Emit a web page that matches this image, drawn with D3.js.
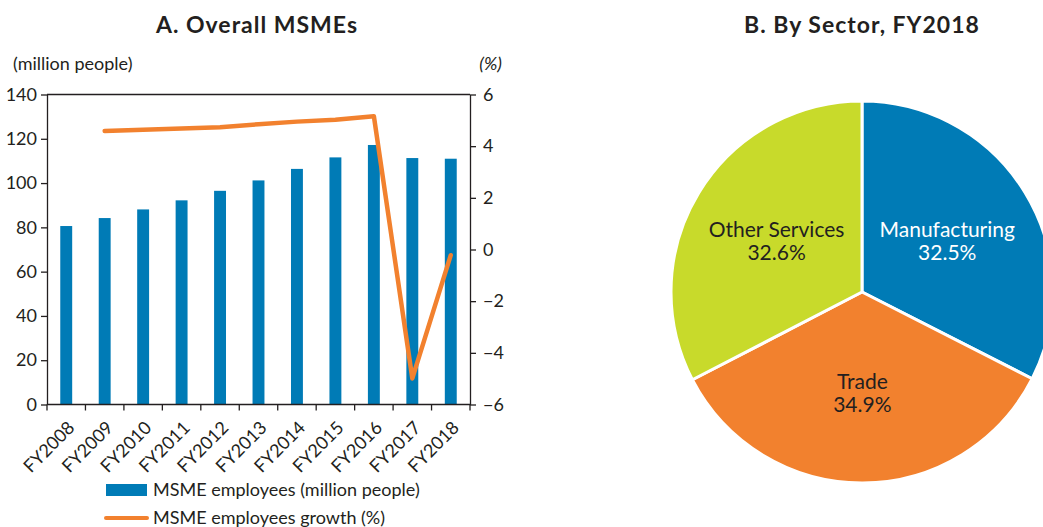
<!DOCTYPE html>
<html>
<head>
<meta charset="utf-8">
<script src="https://cdn.jsdelivr.net/npm/d3@7"></script>
<style>
  body { margin: 0; background: #fff; }
  svg { display: block; font-family: Lato, "Open Sans", sans-serif; }
</style>
</head>
<body>
<svg id="chart" width="1043" height="527"></svg>
<script>
// Panel A data
const years = ["FY2008","FY2009","FY2010","FY2011","FY2012","FY2013","FY2014","FY2015","FY2016","FY2017","FY2018"];
const employees = [80.6, 84.2, 88.1, 92.2, 96.5, 101.2, 106.4, 111.6, 117.2, 111.3, 111.0];
const growth = [null, 4.59, 4.64, 4.68, 4.73, 4.85, 4.95, 5.02, 5.16, -4.99, -0.22];
const leftTicks = [0, 20, 40, 60, 80, 100, 120, 140];
const rightTicks = [-6, -4, -2, 0, 2, 4, 6];

// Panel B data
const sectors = ["Manufacturing", "Trade", "Other Services"];
const shares = [32.5, 34.9, 32.6];

const BLUE = "#007bb6", ORANGE = "#f2812e", LIME = "#c8da2b", INK = "#231f20";
const FS = 18;

const svg = d3.select("#chart");

// ---------- Panel A ----------
const m = { left: 47, right: 470, top: 94.5, bottom: 404.5 };
const x = d3.scaleBand().domain(years).range([m.left, m.right]).paddingInner(0.69).paddingOuter(0.345);
const xb = d3.scaleBand().domain(years).range([m.left, m.right]);
const yL = d3.scaleLinear().domain([0, 140]).range([m.bottom, m.top]);
const yR = d3.scaleLinear().domain([-6, 6]).range([m.bottom, m.top]);

svg.append("text").attr("x", 257).attr("y", 33).attr("text-anchor", "middle")
  .attr("font-size", 23).attr("font-weight", 700).attr("letter-spacing", 1)
  .attr("fill", INK).text("A. Overall MSMEs");
svg.append("text").attr("x", 13).attr("y", 70).attr("font-size", FS).attr("fill", INK).text("(million people)");
svg.append("text").attr("x", 502).attr("y", 70).attr("text-anchor", "end").attr("font-size", FS)
  .attr("font-style", "italic").attr("fill", INK).text("(%)");

// bars
svg.append("g").selectAll("rect").data(employees).join("rect")
  .attr("x", (d, i) => x(years[i]))
  .attr("width", x.bandwidth())
  .attr("y", d => yL(d))
  .attr("height", d => yL(0) - yL(d))
  .attr("fill", BLUE);

// frame (top border)
svg.append("line").attr("x1", m.left).attr("x2", m.right).attr("y1", m.top).attr("y2", m.top)
  .attr("stroke", INK).attr("stroke-width", 1.3);

function styleAxis(g) {
  g.selectAll(".domain").attr("stroke", INK).attr("stroke-width", 1.3);
  g.selectAll(".tick line").attr("stroke", INK).attr("stroke-width", 1.3);
  g.selectAll(".tick text").attr("fill", INK).attr("font-size", FS).attr("font-family", "Lato, sans-serif");
}

const axL = svg.append("g").attr("transform", `translate(${m.left},0)`)
  .call(d3.axisLeft(yL).tickValues(leftTicks).tickSize(6).tickPadding(4).tickSizeOuter(0));
styleAxis(axL);

const axR = svg.append("g").attr("transform", `translate(${m.right},0)`)
  .call(d3.axisRight(yR).tickValues(rightTicks).tickSize(6).tickPadding(7).tickSizeOuter(0)
    .tickFormat(d => d < 0 ? "\u2212" + Math.abs(d) : d));
styleAxis(axR);

// bottom axis with ticks on category boundaries
const axB = svg.append("g").attr("transform", `translate(0,${m.bottom})`);
axB.append("line").attr("x1", m.left).attr("x2", m.right).attr("stroke", INK).attr("stroke-width", 1.3);
const bounds = years.map(d => xb(d)).concat([m.right]);
axB.selectAll("line.t").data(bounds).join("line").attr("class", "t")
  .attr("x1", d => d).attr("x2", d => d).attr("y1", 0).attr("y2", 6)
  .attr("stroke", INK).attr("stroke-width", 1.3);
axB.selectAll("text").data(years).join("text")
  .attr("transform", d => `translate(${xb(d) + xb.bandwidth() / 2 + 5},${20}) rotate(-45)`)
  .attr("text-anchor", "end").attr("dy", "0.35em")
  .attr("font-size", FS).attr("fill", INK).text(d => d);

// growth line
const line = d3.line()
  .defined(d => d.v !== null)
  .x(d => x(d.y) + x.bandwidth() / 2)
  .y(d => yR(d.v));
svg.append("path").datum(years.map((y, i) => ({ y, v: growth[i] })))
  .attr("d", line).attr("fill", "none").attr("stroke", ORANGE)
  .attr("stroke-width", 4.5).attr("stroke-linecap", "round").attr("stroke-linejoin", "round");

// legend
const lg = svg.append("g");
lg.append("rect").attr("x", 106).attr("y", 484).attr("width", 41).attr("height", 12).attr("fill", BLUE);
lg.append("text").attr("x", 153).attr("y", 496).attr("font-size", FS).attr("fill", INK)
  .text("MSME employees (million people)");
lg.append("line").attr("x1", 106).attr("x2", 147).attr("y1", 518).attr("y2", 518)
  .attr("stroke", ORANGE).attr("stroke-width", 4).attr("stroke-linecap", "round");
lg.append("text").attr("x", 153).attr("y", 524).attr("font-size", FS).attr("fill", INK)
  .text("MSME employees growth (%)");

// ---------- Panel B ----------
svg.append("text").attr("x", 862).attr("y", 33).attr("text-anchor", "middle")
  .attr("font-size", 23).attr("font-weight", 700).attr("letter-spacing", 1)
  .attr("fill", INK).text("B. By Sector, FY2018");

const cx = 862, cy = 292, R = 191;
const pie = d3.pie().sort(null).value(d => d.v);
const arcs = pie(sectors.map((s, i) => ({ s, v: shares[i] })));
const arc = d3.arc().innerRadius(0).outerRadius(R);
const labelArc = d3.arc().innerRadius(100).outerRadius(100);
const colors = [BLUE, ORANGE, LIME];
const textColors = ["#ffffff", INK, INK];

const pg = svg.append("g").attr("transform", `translate(${cx},${cy})`);
pg.selectAll("path").data(arcs).join("path")
  .attr("d", arc).attr("fill", (d, i) => colors[i])
  .attr("stroke", "#fff").attr("stroke-width", 3).attr("stroke-linejoin", "round");

const lbl = pg.selectAll("text").data(arcs).join("text")
  .attr("transform", d => `translate(${labelArc.centroid(d)})`)
  .attr("text-anchor", "middle").attr("font-size", 21)
  .attr("fill", (d, i) => textColors[i]);
lbl.append("tspan").attr("x", 0).attr("dy", "-0.15em").text(d => d.data.s);
lbl.append("tspan").attr("x", 0).attr("dy", "1.1em").text(d => d.data.v.toFixed(1) + "%");
</script>
</body>
</html>
